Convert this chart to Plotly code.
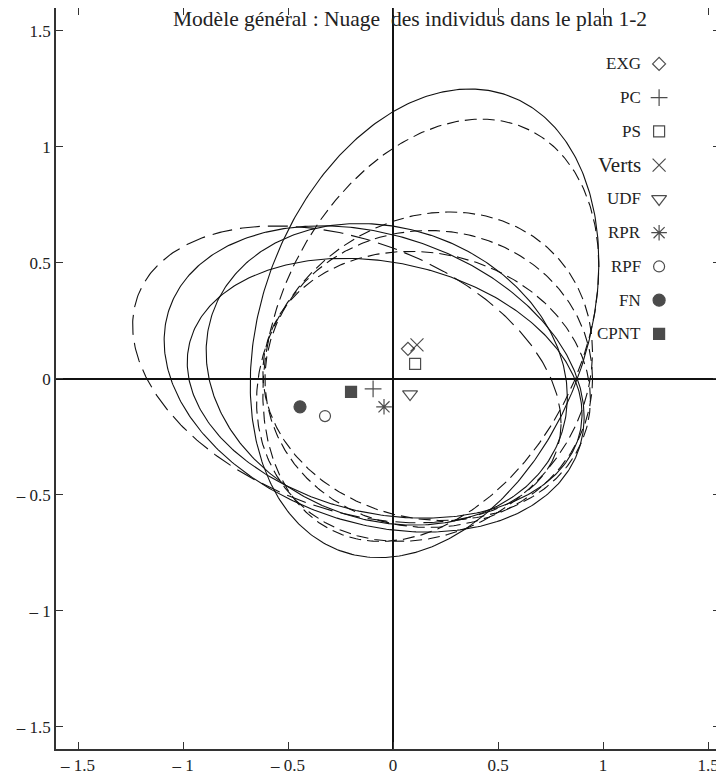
import numpy as np
import plotly.graph_objects as go

# --- party centroids (plan 1-2) ---
parties = ["EXG", "PC", "PS", "Verts", "UDF", "RPR", "RPF", "FN", "CPNT"]
cent_x = [0.071, -0.095, 0.105, 0.114, 0.081, -0.043, -0.324, -0.443, -0.200]
cent_y = [0.130, -0.043, 0.065, 0.147, -0.065, -0.120, -0.160, -0.120, -0.056]
symbols = ["diamond-open", "cross-thin-open", "square-open", "x-thin-open",
           "triangle-down-open", "asterisk-open", "circle-open", "circle", "square"]
sizes = [10, 12, 11, 13, 13, 13, 11, 12, 11]

# --- dispersion ellipses: centre, half-extent in x and y, correlation, dash ---
ell_cx = [0.15, 0.18, 0.15, 0.16, -0.22, -0.09, -0.04, -0.03, 0.17]
ell_cy = [0.24, 0.21, 0.01, -0.03, 0.02, 0.00, -0.04, 0.02, 0.00]
ell_sx = [0.83, 0.80, 0.80, 0.78, 1.02, 1.00, 0.94, 0.86, 0.78]
ell_sy = [1.01, 0.91, 0.71, 0.58, 0.64, 0.66, 0.56, 0.65, 0.64]
ell_rho = [0.26, 0.30, 0.15, -0.10, -0.33, -0.25, -0.20, -0.15, 0.00]
ell_dash = ["solid", "12px,6px", "12px,6px", "12px,6px", "20px,8px",
            "solid", "solid", "solid", "12px,6px"]

xticks = [-1.5, -1, -0.5, 0, 0.5, 1, 1.5]
xtick_text = ["\u2013 1.5", "\u2013 1", "\u2013 0.5", "0", "0.5", "1", "1.5"]
yticks = [-1.5, -1, -0.5, 0, 0.5, 1, 1.5]
ytick_text = ["\u2013 1.5", "\u2013 1", "\u2013 0.5", "0", "0.5", "1", "1.5"]

title_text = "Modèle général : Nuage  des individus dans le plan 1-2"

FONT = "Liberation Serif"

fig = go.Figure()

t = np.linspace(0, 2 * np.pi, 400)
for cx, cy, sx, sy, rho, dash in zip(ell_cx, ell_cy, ell_sx, ell_sy, ell_rho, ell_dash):
    ex = cx + sx * np.cos(t)
    ey = cy + sy * (rho * np.cos(t) + np.sqrt(1 - rho ** 2) * np.sin(t))
    fig.add_trace(go.Scatter(x=ex, y=ey, mode="lines",
                             line=dict(color="#111", width=1.1, dash=dash),
                             hoverinfo="skip", showlegend=False))

fig.add_trace(go.Scatter(
    x=cent_x, y=cent_y, mode="markers", text=parties,
    marker=dict(symbol=symbols, size=sizes, color="#000",
                line=dict(color="#000", width=1.2)),
    showlegend=False))

# --- legend drawn on the right (text then symbol) ---
LEG_X = 1.267
LEG_Y0 = 1.358
LEG_DY = 0.1455
leg_y = [LEG_Y0 - i * LEG_DY for i in range(len(parties))]
fig.add_trace(go.Scatter(
    x=[LEG_X] * len(parties), y=leg_y, mode="markers",
    marker=dict(symbol=symbols, size=sizes, color="#000",
                line=dict(color="#000", width=1.2)),
    hoverinfo="skip", showlegend=False))

annotations = []
for name, yy in zip(parties, leg_y):
    annotations.append(dict(
        x=LEG_X - 0.077, y=yy, xref="x", yref="y", text=name, showarrow=False,
        xanchor="right", yanchor="middle",
        font=dict(family=FONT, size=21 if name == "Verts" else 17, color="#222")))

annotations.append(dict(
    x=0.081, y=1.552, xref="x", yref="y", text=title_text, showarrow=False,
    xanchor="center", yanchor="middle",
    font=dict(family=FONT, size=21.5, color="#222")))

axis_common = dict(
    showgrid=False, zeroline=True, zerolinecolor="#111", zerolinewidth=1.5,
    showline=True, linecolor="#333", linewidth=1.5, mirror="ticks",
    ticks="inside", ticklen=7, tickwidth=1.2, tickcolor="#333",
    tickfont=dict(family=FONT, size=17, color="#222"),
    automargin=False,
)

# the page body adds an 8 px offset, so the figure is 716x772
fig.update_layout(
    width=716, height=772,
    margin=dict(l=48, r=4, t=0, b=31),
    paper_bgcolor="white", plot_bgcolor="white",
    xaxis=dict(range=[-1.605, 1.557], tickvals=xticks, ticktext=xtick_text, **axis_common),
    yaxis=dict(range=[-1.595, 1.599], tickvals=yticks, ticktext=ytick_text, **axis_common),
    annotations=annotations,
    showlegend=False,
)

fig.write_html("out.html")
